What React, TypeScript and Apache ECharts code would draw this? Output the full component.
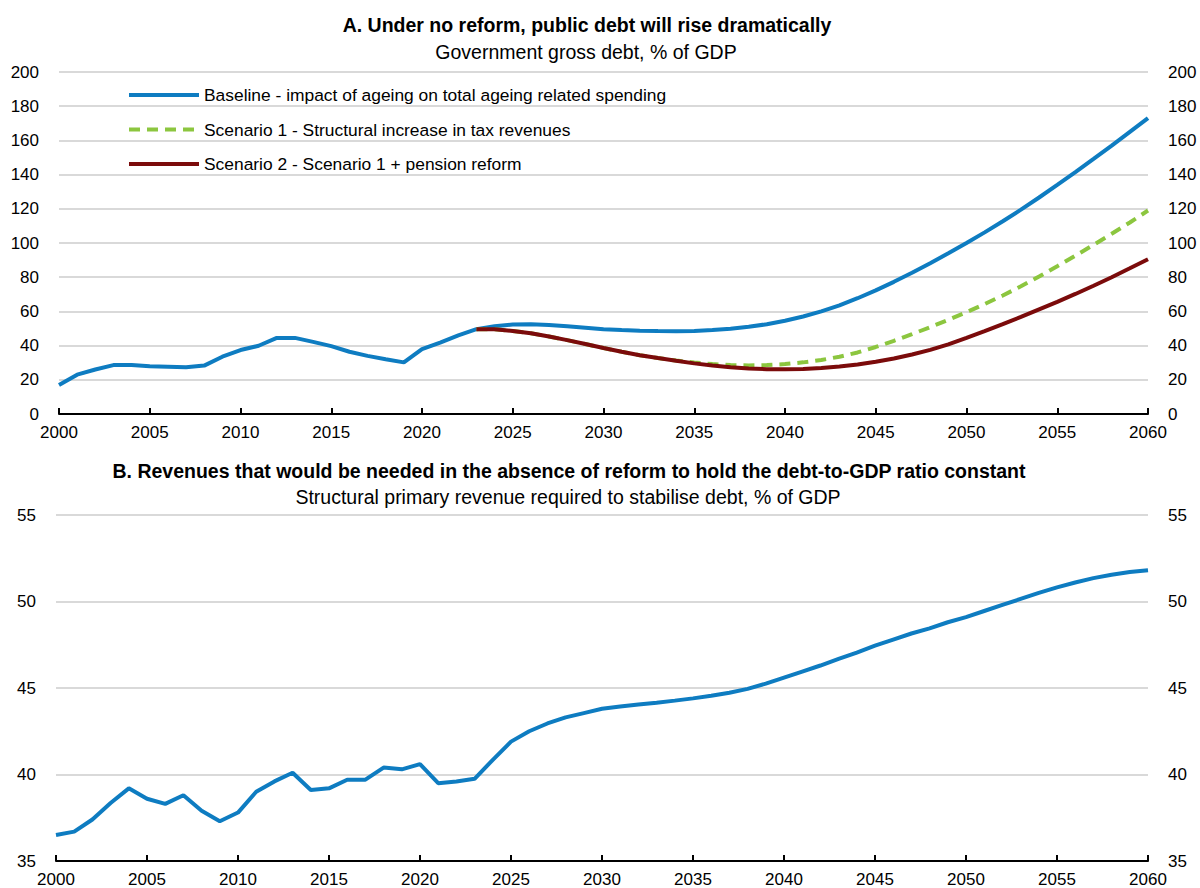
import React, { useEffect, useRef } from "react";
import * as echarts from "echarts";

const YEARS: number[] = Array.from({ length: 61 }, (_, i) => 2000 + i);
const SCEN_YEARS: number[] = Array.from({ length: 38 }, (_, i) => 2023 + i);

const baselineDebt = [
  17, 23, 26, 28.6, 28.6, 27.9, 27.7, 27.3, 28.3, 33.5,
  37.4, 39.9, 44.5, 44.5, 42.2, 39.7, 36.4, 34, 32, 30.2,
  38, 41.8, 46, 49.6, 51.3, 52.3, 52.5, 52, 51.3, 50.5,
  49.6, 49.1, 48.7, 48.5, 48.4, 48.6, 49.1, 49.9, 51, 52.5,
  54.5, 57, 60, 63.5, 67.7, 72.3, 77.3, 82.6, 88.2, 94,
  100, 106.2, 112.7, 119.5, 126.6, 134, 141.5, 149.2, 157, 165, 173,
];

const scenario1Debt = [
  49.6, 49.5, 48.6, 47.2, 45.3, 43.2, 40.9, 38.6, 36.4, 34.4, 32.7,
  31.3, 30.1, 29.2, 28.6, 28.4, 28.6, 29.2, 30.2, 31.6, 33.5,
  36, 39.2, 42.8, 46.7, 50.8, 55.1, 59.5, 64.3, 69.3, 74.7,
  80.4, 86.4, 92.6, 98.9, 105.4, 112, 119,
];

const scenario2Debt = [
  49.6, 49.5, 48.6, 47.2, 45.3, 43.2, 40.9, 38.6, 36.4, 34.4, 32.7,
  31.1, 29.6, 28.3, 27.3, 26.6, 26.2, 26.1, 26.3, 26.9, 27.8,
  29, 30.6, 32.5, 34.8, 37.5, 40.7, 44.5, 48.4, 52.5, 56.8,
  61.2, 65.6, 70.2, 75, 80, 85.2, 90.5,
];

const revenueRequired = [
  36.5, 36.7, 37.4, 38.35, 39.2, 38.6, 38.3, 38.8, 37.9, 37.3,
  37.8, 39.0, 39.6, 40.1, 39.1, 39.2, 39.7, 39.7, 40.4, 40.3,
  40.6, 39.5, 39.6, 39.75, 40.85, 41.9, 42.5, 42.95, 43.3, 43.55,
  43.8, 43.93, 44.05, 44.15, 44.27, 44.4, 44.55, 44.73, 44.95, 45.25,
  45.6, 45.95, 46.3, 46.68, 47.05, 47.45, 47.8, 48.15, 48.45, 48.8,
  49.1, 49.45, 49.8, 50.15, 50.5, 50.82, 51.1, 51.35, 51.55, 51.7, 51.8,
];

const SERIES_NAMES = [
  "Baseline - impact of ageing on total ageing related spending",
  "Scenario 1 - Structural increase in tax revenues",
  "Scenario 2 - Scenario 1 + pension reform",
];

const TITLE_A = "A. Under no reform, public debt will rise dramatically";
const SUB_A = "Government gross debt, % of GDP";
const TITLE_B = "B. Revenues that would be needed in the absence of reform to hold the debt-to-GDP ratio constant";
const SUB_B = "Structural primary revenue required to stabilise debt, % of GDP";

const FONT = "'Liberation Sans', Arial, sans-serif";
const BLUE = "#0E7CC1";
const GREEN = "#8CC63F";
const RED = "#7B0B0B";

const pairs = (xs: number[], ys: number[]) => xs.map((x, i) => [x, ys[i]]);

export default function App() {
  const ref = useRef<HTMLDivElement>(null);
  useEffect(() => {
    document.body.style.margin = "0";
    if (!ref.current) return;
    const chart = echarts.init(ref.current, undefined, { renderer: "svg" });
    const labelStyle = { color: "#000", fontFamily: FONT, fontSize: 17 };
    const xAxisBase = (gridIndex: number) => ({
      type: "value",
      gridIndex,
      min: 2000,
      max: 2060,
      interval: 5,
      axisLine: { show: true, lineStyle: { color: "#000", width: 2 } },
      axisTick: { show: true, inside: true, length: 6, lineStyle: { color: "#000", width: 2 } },
      axisLabel: { ...labelStyle, margin: 10, formatter: (v: number) => String(v) },
      splitLine: { show: false },
    });
    const yAxisBase = (gridIndex: number, min: number, max: number, interval: number, pos: string, grid: boolean) => ({
      type: "value",
      gridIndex,
      min,
      max,
      interval,
      position: pos,
      axisLine: { show: false },
      axisTick: { show: false },
      axisLabel: { ...labelStyle, margin: 20 },
      splitLine: { show: grid, lineStyle: { color: "#d9d9d9", width: 2 } },
    });
    chart.setOption({
      animation: false,
      backgroundColor: "#fff",
      textStyle: { fontFamily: FONT },
      grid: [
        { left: 59, right: 52, top: 72, height: 342 },
        { left: 56, right: 52, top: 515, height: 348 },
      ],
      xAxis: [xAxisBase(0), xAxisBase(1)],
      yAxis: [
        yAxisBase(0, 0, 200, 20, "left", true),
        yAxisBase(0, 0, 200, 20, "right", false),
        yAxisBase(1, 35, 55, 5, "left", true),
        yAxisBase(1, 35, 55, 5, "right", false),
      ],
      legend: {
        data: SERIES_NAMES,
        orient: "vertical",
        left: 122,
        top: 80,
        itemWidth: 70,
        itemHeight: 20,
        itemGap: 14.5,
        itemStyle: { opacity: 0 },
        lineStyle: { width: 4 },
        textStyle: { ...labelStyle, fontSize: 17.4, lineHeight: 20 },
        selectedMode: false,
      },
      graphic: [
        { type: "text", x: 587, y: 25, style: { text: TITLE_A, font: `bold 19.5px ${FONT}`, fill: "#000", textAlign: "center", textVerticalAlign: "middle" } },
        { type: "text", x: 586, y: 52, style: { text: SUB_A, font: `19.5px ${FONT}`, fill: "#000", textAlign: "center", textVerticalAlign: "middle" } },
        { type: "text", x: 569, y: 471, style: { text: TITLE_B, font: `bold 19.5px ${FONT}`, fill: "#000", textAlign: "center", textVerticalAlign: "middle" } },
        { type: "text", x: 568, y: 497, style: { text: SUB_B, font: `19.5px ${FONT}`, fill: "#000", textAlign: "center", textVerticalAlign: "middle" } },
      ],
      series: [
        {
          name: SERIES_NAMES[0], type: "line", xAxisIndex: 0, yAxisIndex: 0,
          data: pairs(YEARS, baselineDebt), symbol: "none",
          lineStyle: { color: BLUE, width: 4 }, itemStyle: { color: BLUE },
        },
        {
          name: SERIES_NAMES[1], type: "line", xAxisIndex: 0, yAxisIndex: 0,
          data: pairs(SCEN_YEARS, scenario1Debt), symbol: "none",
          lineStyle: { color: GREEN, width: 4, type: [11, 7] }, itemStyle: { color: GREEN },
        },
        {
          name: SERIES_NAMES[2], type: "line", xAxisIndex: 0, yAxisIndex: 0,
          data: pairs(SCEN_YEARS, scenario2Debt), symbol: "none",
          lineStyle: { color: RED, width: 4 }, itemStyle: { color: RED },
        },
        {
          name: "Revenue", type: "line", xAxisIndex: 1, yAxisIndex: 2,
          data: pairs(YEARS, revenueRequired), symbol: "none",
          lineStyle: { color: BLUE, width: 4 }, itemStyle: { color: BLUE },
        },
      ],
    });
    return () => chart.dispose();
  }, []);
  return <div ref={ref} style={{ width: 1200, height: 888 }} />;
}
